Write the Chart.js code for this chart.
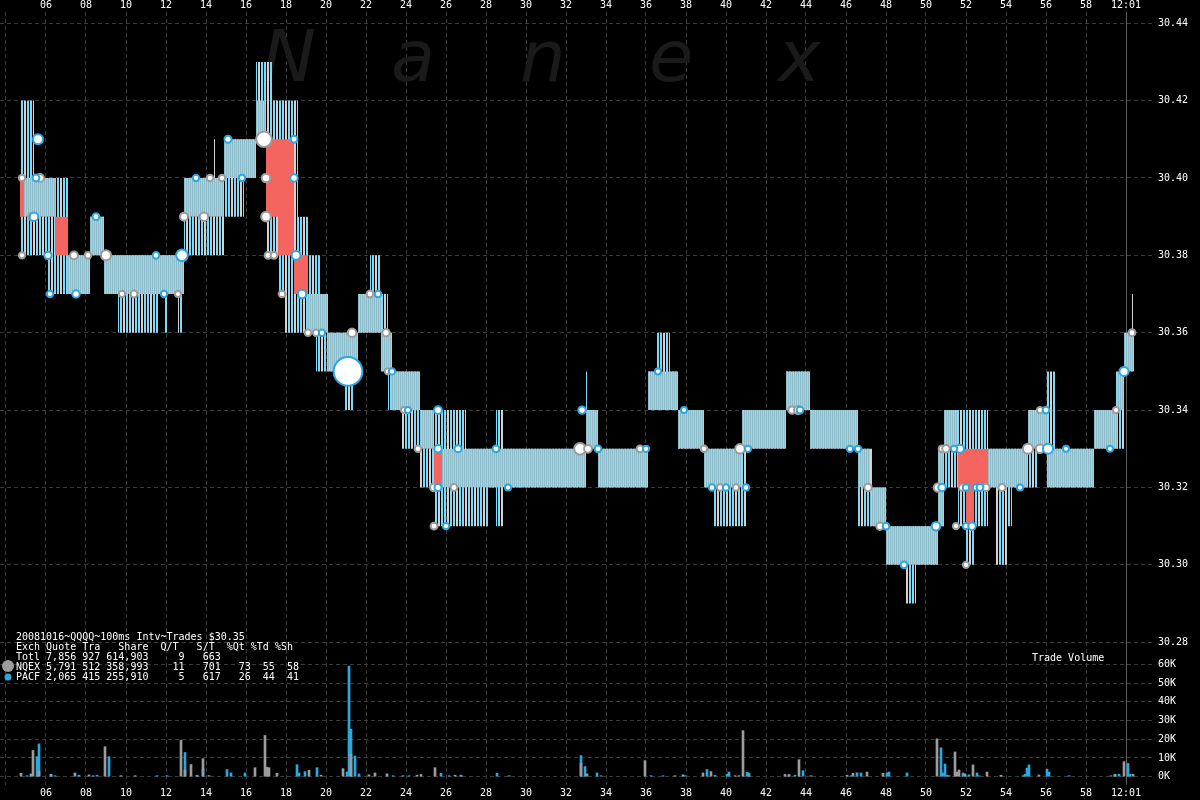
<!DOCTYPE html>
<html>
<head>
<meta charset="utf-8">
<script src="https://cdn.jsdelivr.net/npm/chart.js@4.4.1/dist/chart.umd.min.js"></script>
<style>
  html, body { margin: 0; padding: 0; background: #000; }
  #wrap { width: 1200px; height: 800px; position: relative; }
</style>
</head>
<body>
<div id="wrap"><canvas id="nanexChart"></canvas></div>
<script>
// axis ticks
const secondTicks = [4, 6, 8, 10, 12, 14, 16, 18, 20, 22, 24, 26, 28, 30, 32, 34, 36, 38, 40, 42, 44, 46, 48, 50, 52, 54, 56, 58, 60];
const priceTicks = [30.28, 30.30, 30.32, 30.34, 30.36, 30.38, 30.40, 30.42, 30.44];
const volumeTicks = [0, 10000, 20000, 30000, 40000, 50000, 60000];

// best bid / ask (seconds after 12:00)
const quoteTimes = [4.7, 4.9, 6.45, 7.1, 8.2, 8.9, 12.9, 14.9, 16.5, 17.0, 17.6, 18.4, 19.1, 20.1, 21.6, 22.8, 23.3, 24.7, 25.4, 25.8, 26.4, 33.0, 33.6, 36.1, 37.6, 38.9, 40.8, 43.0, 44.2, 46.6, 47.2, 48.0, 50.6, 50.9, 51.6, 52.0, 52.4, 53.1, 55.1, 56.1, 58.4, 59.6, 59.9, 60.4];
const bestBid = [30.40, 30.39, 30.39, 30.37, 30.38, 30.37, 30.39, 30.40, 30.41, 30.41, 30.41, 30.38, 30.36, 30.35, 30.36, 30.35, 30.34, 30.33, 30.33, 30.32, 30.32, 30.33, 30.32, 30.34, 30.33, 30.32, 30.33, 30.34, 30.33, 30.32, 30.31, 30.30, 30.31, 30.33, 30.33, 30.33, 30.33, 30.32, 30.33, 30.32, 30.33, 30.34, 30.35, 30.35];
const bestAsk = [30.39, 30.40, 30.38, 30.38, 30.39, 30.38, 30.40, 30.41, 30.42, 30.39, 30.38, 30.37, 30.37, 30.36, 30.37, 30.36, 30.35, 30.34, 30.32, 30.33, 30.33, 30.34, 30.33, 30.35, 30.34, 30.33, 30.34, 30.35, 30.34, 30.33, 30.32, 30.31, 30.33, 30.34, 30.32, 30.31, 30.32, 30.33, 30.34, 30.33, 30.34, 30.35, 30.36, 30.36];

// exchange quote envelope
const wideTimes = [4.7, 5.4, 6.1, 7.1, 8.2, 8.9, 9.6, 11.6, 11.9, 12.1, 12.6, 12.8, 12.9, 14.4, 14.5, 14.9, 15.9, 16.5, 17.0, 17.3, 17.6, 17.9, 18.6, 19.1, 19.5, 19.7, 20.1, 20.9, 21.4, 21.6, 22.2, 22.7, 23.1, 23.3, 23.8, 24.7, 25.4, 27.0, 28.1, 28.5, 28.9, 33.0, 33.1, 33.6, 36.1, 36.5, 37.2, 37.6, 38.9, 39.4, 41.0, 43.0, 44.2, 46.6, 47.3, 48.0, 49.0, 49.5, 50.6, 50.9, 51.6, 52.0, 52.4, 53.1, 53.5, 54.1, 54.3, 55.1, 55.6, 56.0, 56.5, 58.4, 59.5, 59.9, 60.3, 60.4];
const wideHigh = [30.42, 30.40, 30.40, 30.38, 30.39, 30.38, 30.38, 30.38, 30.38, 30.38, 30.38, 30.38, 30.40, 30.41, 30.40, 30.41, 30.41, 30.43, 30.43, 30.42, 30.42, 30.42, 30.39, 30.38, 30.38, 30.37, 30.36, 30.36, 30.36, 30.37, 30.38, 30.37, 30.36, 30.35, 30.35, 30.34, 30.34, 30.33, 30.33, 30.34, 30.33, 30.35, 30.34, 30.33, 30.35, 30.36, 30.35, 30.34, 30.33, 30.33, 30.34, 30.35, 30.34, 30.33, 30.32, 30.31, 30.31, 30.31, 30.33, 30.34, 30.34, 30.34, 30.34, 30.33, 30.33, 30.33, 30.33, 30.34, 30.34, 30.35, 30.33, 30.34, 30.35, 30.36, 30.37, 30.37];
const wideLow = [30.38, 30.38, 30.37, 30.37, 30.38, 30.37, 30.36, 30.37, 30.36, 30.37, 30.36, 30.37, 30.38, 30.38, 30.38, 30.39, 30.40, 30.41, 30.38, 30.38, 30.37, 30.36, 30.36, 30.36, 30.35, 30.35, 30.35, 30.34, 30.35, 30.36, 30.36, 30.35, 30.34, 30.34, 30.33, 30.32, 30.31, 30.31, 30.32, 30.31, 30.32, 30.33, 30.33, 30.32, 30.34, 30.34, 30.34, 30.33, 30.32, 30.31, 30.33, 30.34, 30.33, 30.31, 30.31, 30.30, 30.29, 30.30, 30.31, 30.32, 30.31, 30.30, 30.31, 30.32, 30.30, 30.31, 30.32, 30.32, 30.33, 30.32, 30.32, 30.33, 30.33, 30.35, 30.35, 30.35];

// trades
const nqexTradeTimes = [4.8, 4.8, 5.7, 5.3, 9.0, 7.4, 8.1, 9.8, 10.4, 12.6, 12.9, 13.9, 14.2, 14.8, 16.9, 17.0, 17.0, 17.1, 17.4, 17.8, 19.1, 19.5, 21.3, 22.2, 23.0, 23.1, 23.9, 24.6, 25.4, 26.4, 25.4, 32.7, 33.1, 35.7, 38.9, 40.7, 39.7, 40.5, 43.3, 43.6, 47.1, 47.7, 50.6, 50.8, 51.0, 51.8, 53.0, 53.8, 51.5, 52.0, 55.1, 55.7, 55.7, 59.5, 60.3];
const nqexTradePrices = [30.40, 30.38, 30.40, 30.39, 30.38, 30.38, 30.38, 30.37, 30.37, 30.37, 30.39, 30.39, 30.40, 30.40, 30.41, 30.40, 30.39, 30.38, 30.38, 30.37, 30.36, 30.36, 30.36, 30.37, 30.36, 30.35, 30.34, 30.33, 30.32, 30.32, 30.31, 30.33, 30.33, 30.33, 30.33, 30.33, 30.32, 30.32, 30.34, 30.34, 30.32, 30.31, 30.32, 30.33, 30.33, 30.32, 30.32, 30.32, 30.31, 30.30, 30.33, 30.33, 30.34, 30.34, 30.36];
const nqexTradeSizes = [300, 300, 1000, 800, 3000, 1000, 400, 300, 500, 200, 1200, 1500, 400, 300, 12000, 1500, 2500, 500, 500, 400, 400, 300, 1500, 500, 800, 300, 200, 400, 1000, 500, 500, 5000, 1000, 500, 400, 2500, 300, 300, 800, 1200, 800, 800, 1500, 500, 800, 400, 700, 600, 300, 300, 3000, 1500, 300, 300, 500];
const pacfTradeTimes = [5.6, 5.5, 5.4, 6.1, 6.2, 7.5, 8.5, 11.5, 11.9, 12.8, 13.5, 15.1, 15.8, 18.4, 18.4, 18.5, 18.8, 19.8, 21.1, 22.6, 23.3, 24.1, 25.6, 25.6, 26.6, 28.5, 25.6, 29.1, 26.0, 32.8, 33.6, 36.0, 36.6, 37.9, 41.1, 39.3, 40.0, 41.0, 43.7, 46.2, 46.6, 48.0, 48.9, 50.5, 50.8, 51.7, 51.4, 52.0, 52.5, 52.7, 54.7, 52.0, 52.3, 56.1, 57.0, 56.0, 59.2, 59.9];
const pacfTradePrices = [30.41, 30.40, 30.39, 30.38, 30.37, 30.37, 30.39, 30.38, 30.37, 30.38, 30.40, 30.41, 30.40, 30.41, 30.40, 30.38, 30.37, 30.36, 30.35, 30.37, 30.35, 30.34, 30.34, 30.33, 30.33, 30.33, 30.32, 30.32, 30.31, 30.34, 30.33, 30.33, 30.35, 30.34, 30.33, 30.32, 30.32, 30.32, 30.34, 30.33, 30.33, 30.31, 30.30, 30.31, 30.32, 30.33, 30.33, 30.32, 30.32, 30.32, 30.32, 30.31, 30.31, 30.33, 30.33, 30.34, 30.33, 30.35];
const pacfTradeSizes = [3000, 500, 1500, 800, 300, 800, 500, 400, 300, 5000, 300, 600, 300, 500, 800, 1800, 1500, 300, 58000, 400, 300, 300, 1000, 800, 600, 500, 600, 200, 300, 800, 500, 300, 200, 200, 300, 300, 300, 300, 500, 300, 300, 400, 500, 1500, 800, 1200, 300, 300, 300, 500, 200, 300, 800, 3000, 200, 400, 200, 2000];

// volume per 100ms interval
const nqexVolTimes = [4.8, 5.3, 5.4, 5.7, 6.3, 7.5, 8.2, 9.0, 9.8, 10.5, 12.8, 13.0, 13.3, 13.6, 13.9, 14.2, 16.5, 17.0, 17.1, 17.2, 17.6, 19.2, 19.8, 20.9, 21.3, 22.2, 22.5, 23.1, 23.9, 24.6, 24.8, 25.5, 26.5, 26.8, 32.8, 33.1, 36.0, 37.5, 37.9, 38.9, 39.3, 40.5, 40.7, 40.9, 41.2, 43.0, 43.2, 43.7, 44.3, 46.1, 46.4, 47.1, 47.9, 50.6, 51.2, 51.5, 51.6, 51.7, 52.0, 52.4, 53.1, 53.8, 55.7, 59.5, 59.95, 60.4];
const nqexVolumes = [1800, 1500, 14000, 3000, 1300, 2000, 1000, 16000, 200, 500, 19500, 3500, 6500, 300, 9600, 600, 4800, 22000, 5000, 4800, 1800, 3500, 800, 4300, 12000, 1000, 2000, 1500, 200, 800, 1200, 4800, 800, 600, 7100, 1500, 8600, 200, 1000, 2000, 2700, 200, 300, 24600, 300, 1200, 1200, 9100, 200, 800, 1800, 2500, 1800, 20200, 500, 13200, 2500, 3600, 1500, 6300, 2500, 800, 900, 1300, 8000, 1300];
const pacfVolTimes = [5.0, 5.5, 5.6, 6.2, 6.4, 7.6, 8.3, 8.5, 9.1, 11.5, 12.0, 12.9, 13.5, 13.8, 15.0, 15.2, 15.9, 18.5, 18.6, 18.9, 19.5, 21.0, 21.1, 21.2, 21.4, 21.6, 23.3, 24.1, 25.7, 26.1, 26.7, 28.5, 29.1, 32.7, 32.9, 33.5, 33.7, 36.2, 36.8, 37.9, 39.0, 39.4, 40.0, 40.1, 41.0, 41.1, 43.1, 43.4, 43.8, 46.2, 46.5, 46.7, 48.0, 48.1, 49.0, 50.7, 50.8, 50.9, 51.0, 51.8, 51.9, 52.1, 52.5, 52.6, 53.7, 54.8, 54.9, 55.0, 55.1, 56.0, 56.1, 57.1, 59.2, 59.4, 59.6, 60.05, 60.15];
const pacfVolumes = [300, 10700, 17500, 1300, 500, 800, 300, 800, 10700, 200, 200, 12900, 800, 4300, 3800, 2000, 2000, 6400, 2000, 2700, 4800, 2500, 59000, 25400, 11000, 1500, 200, 200, 1800, 200, 800, 1800, 200, 11300, 5400, 2000, 300, 300, 200, 300, 3800, 800, 1300, 2500, 2300, 2000, 600, 800, 3200, 500, 2100, 2000, 2000, 2500, 2000, 15400, 2000, 6800, 800, 2000, 500, 1000, 2000, 300, 400, 400, 1300, 4600, 6300, 4000, 2500, 300, 300, 1300, 1300, 7100, 1300];

// stats block
const statsLines = [
  '20081016~QQQQ~100ms Intv~Trades $30.35',
  'Exch Quote Tra   Share  Q/T   S/T  %Qt %Td %Sh',
  'Totl 7,856 927 614,903     9   663',
  'NQEX 5,791 512 358,993    11   701   73  55  58',
  'PACF 2,065 415 255,910     5   617   26  44  41'
];

const BLUE = '#2aa8df';
const GRAY = '#9c9c9c';
const RED = '#f4655f';
const GRID = '#3a3a3a';
const tickFont = { family: '"DejaVu Sans Mono", monospace', size: 10 };

const canvas = document.getElementById('nanexChart');
const ctx = canvas.getContext('2d');

function stripes(cols) {
  const c = document.createElement('canvas');
  c.width = cols.length;
  c.height = 4;
  const g = c.getContext('2d');
  cols.forEach((col, i) => {
    if (col) { g.fillStyle = col; g.fillRect(i, 0, 1, 4); }
  });
  return ctx.createPattern(c, 'repeat');
}
const bandFill = stripes(['#8dbccb', '#c8c8c8']);
const hatchFill = stripes(['#7fd8f6', '#7fd8f6', null, '#7fd8f6', '#7fd8f6', null, '#d2d2d2', '#d2d2d2', null]);

const pts = (xs, ys) => xs.map((x, i) => ({ x: x, y: ys[i] }));
const tradeRadius = size => 2.3 + Math.sqrt(size) / 20;
const secondLabel = v => v === 60 ? '12:01' : (v === 4 ? '' : String(v).padStart(2, '0'));
const setTicks = list => scale => { scale.ticks = list.map(v => ({ value: v })); };
const noPad = s => { s.paddingLeft = 0; s.paddingRight = 0; s.paddingTop = 0; s.paddingBottom = 0; };

const overlay = {
  id: 'overlay',
  afterLayout(chart) {
    // volume labels share the price axis column on the right
    const p = chart.scales.y, v = chart.scales.yv;
    v.left = p.left; v.right = p.right; v.width = p.width;
  },
  beforeDatasetsDraw(chart) {
    const c = chart.ctx;
    c.save();
    c.font = 'italic 72px "DejaVu Sans"';
    c.fillStyle = '#1a1a1a';
    'Nanex'.split('').forEach((ch, i) => c.fillText(ch, 262 + i * 129, 81));
    c.restore();
  },
  afterDraw(chart) {
    const c = chart.ctx;
    c.save();
    c.font = '10px "DejaVu Sans Mono"';
    c.fillStyle = '#ffffff';
    c.textBaseline = 'alphabetic';
    statsLines.forEach((t, i) => c.fillText(t, 16, 640 + i * 10));
    c.fillText('Trade Volume', 1032, 661);
    c.fillStyle = GRAY;
    c.beginPath(); c.arc(8, 666, 6, 0, Math.PI * 2); c.fill();
    c.fillStyle = BLUE;
    c.beginPath(); c.arc(8, 677, 3.5, 0, Math.PI * 2); c.fill();
    c.restore();
  }
};

const stepLine = (data, extra) => Object.assign({
  type: 'line', data: data, stepped: true, borderColor: 'transparent', borderWidth: 0,
  pointRadius: 0, xAxisID: 'x', yAxisID: 'y', fill: false
}, extra);

new Chart(ctx, {
  type: 'line',
  data: {
    datasets: [
      stepLine(pts(wideTimes, wideHigh), { label: 'wide high', order: 7 }),
      stepLine(pts(wideTimes, wideLow), { label: 'wide low', order: 6, backgroundColor: hatchFill, fill: '-1' }),
      stepLine(pts(quoteTimes, bestBid), { label: 'bid', order: 5 }),
      stepLine(pts(quoteTimes, bestAsk), { label: 'ask', order: 4, fill: { target: '-1', above: bandFill, below: RED } }),
      {
        type: 'bar', label: 'NQEX volume', data: pts(nqexVolTimes, nqexVolumes),
        backgroundColor: GRAY, barThickness: 2, minBarLength: 1, xAxisID: 'x', yAxisID: 'yv', order: 3
      },
      {
        type: 'bar', label: 'PACF volume', data: pts(pacfVolTimes, pacfVolumes),
        backgroundColor: BLUE, barThickness: 2, minBarLength: 1, xAxisID: 'x', yAxisID: 'yv', order: 3
      },
      {
        type: 'scatter', label: 'NQEX trades', data: pts(nqexTradeTimes, nqexTradePrices),
        pointRadius: c => tradeRadius(nqexTradeSizes[c.dataIndex]),
        backgroundColor: '#ffffff', borderColor: GRAY, borderWidth: 2,
        xAxisID: 'x', yAxisID: 'y', order: 1
      },
      {
        type: 'scatter', label: 'PACF trades', data: pts(pacfTradeTimes, pacfTradePrices),
        pointRadius: c => tradeRadius(pacfTradeSizes[c.dataIndex]),
        backgroundColor: '#ffffff', borderColor: BLUE, borderWidth: 2,
        xAxisID: 'x', yAxisID: 'y', order: 0
      }
    ]
  },
  options: {
    responsive: true,
    maintainAspectRatio: false,
    animation: false,
    events: [],
    layout: { padding: 0, autoPadding: false },
    plugins: { legend: { display: false }, tooltip: { enabled: false } },
    scales: {
      xt: {
        type: 'linear', axis: 'x', position: 'top', min: 3.7, max: 61.35, offset: false,
        afterBuildTicks: setTicks(secondTicks),
        afterFit: s => { s.height = 12; noPad(s); },
        ticks: { autoSkip: false, maxRotation: 0, color: '#ffffff', font: tickFont, padding: 1, callback: v => secondLabel(v) },
        grid: { offset: false, drawTicks: false, color: c => (c.tick && c.tick.value === 60) ? '#5c5c5c' : GRID },
        border: { display: false, dash: c => (c.tick && c.tick.value === 60) ? [] : [4, 3] }
      },
      x: {
        type: 'linear', axis: 'x', position: 'bottom', min: 3.7, max: 61.35, offset: false,
        afterBuildTicks: setTicks(secondTicks),
        afterFit: s => { s.height = 15; noPad(s); },
        ticks: { autoSkip: false, maxRotation: 0, color: '#ffffff', font: tickFont, padding: 2, callback: v => secondLabel(v) },
        grid: { offset: false, display: false, drawTicks: false },
        border: { display: false }
      },
      y: {
        type: 'linear', axis: 'y', position: 'right', weight: 0, min: 30.2431, max: 30.4429,
        afterBuildTicks: setTicks(priceTicks),
        afterFit: s => { s.width = 47; noPad(s); },
        ticks: { autoSkip: false, color: '#ffffff', font: tickFont, padding: 5, callback: v => v.toFixed(2) },
        grid: { drawTicks: false, color: GRID },
        border: { display: false, dash: [4, 3] }
      },
      yv: {
        type: 'linear', axis: 'y', position: 'right', weight: 1, min: -4430, max: 408200,
        afterBuildTicks: setTicks(volumeTicks),
        afterFit: s => { s.width = 0; noPad(s); },
        ticks: { autoSkip: false, color: '#ffffff', font: tickFont, padding: 5, callback: v => (v / 1000) + 'K' },
        grid: { drawTicks: false, color: GRID },
        border: { display: false, dash: [4, 3] }
      }
    }
  },
  plugins: [overlay]
});
</script>
</body>
</html>
